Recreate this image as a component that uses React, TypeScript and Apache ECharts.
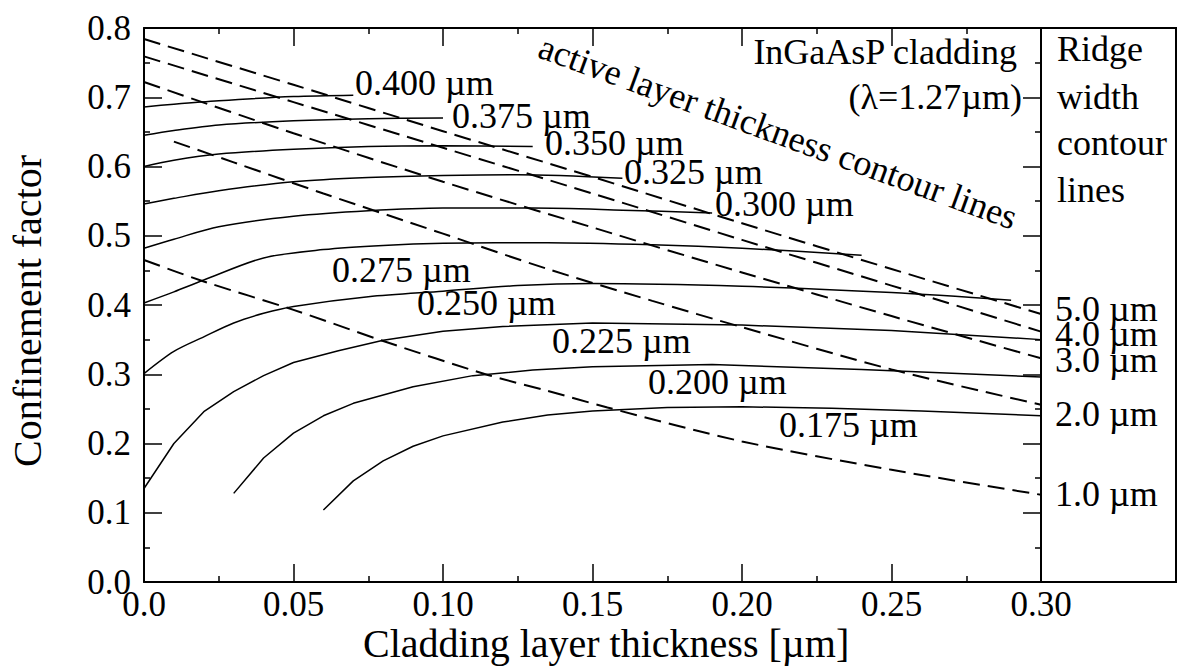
import React, { useEffect, useRef } from "react";
import * as echarts from "echarts";

const FONT = "'Liberation Serif', 'Times New Roman', Times, serif";

// Tick labels
const xTickLabels = ["0.0", "0.05", "0.10", "0.15", "0.20", "0.25", "0.30"];
const yTickLabels = ["0.0", "0.1", "0.2", "0.3", "0.4", "0.5", "0.6", "0.7", "0.8"];

// Active layer thickness contour lines (solid): [cladding thickness, confinement factor]
const act400 = [[0, 0.686], [0.01, 0.69], [0.025, 0.695], [0.05, 0.701], [0.07, 0.703]];
const act375 = [[0, 0.645], [0.01, 0.652], [0.025, 0.66], [0.05, 0.666], [0.075, 0.669], [0.1, 0.67]];
const act350 = [[0, 0.6], [0.01, 0.609], [0.025, 0.618], [0.05, 0.625], [0.075, 0.629], [0.1, 0.63], [0.13, 0.629]];
const act325 = [[0, 0.546], [0.01, 0.554], [0.025, 0.565], [0.05, 0.578], [0.075, 0.584], [0.1, 0.587], [0.125, 0.588], [0.16, 0.583]];
const act300 = [[0, 0.482], [0.01, 0.495], [0.025, 0.513], [0.05, 0.528], [0.075, 0.536], [0.1, 0.54], [0.13, 0.54], [0.16, 0.537], [0.19, 0.533]];
const act275 = [[0, 0.403], [0.01, 0.419], [0.02, 0.436], [0.04, 0.468], [0.06, 0.48], [0.08, 0.486], [0.1, 0.489], [0.135, 0.49], [0.17, 0.487], [0.2, 0.482], [0.24, 0.472]];
const act250 = [[0, 0.301], [0.01, 0.333], [0.02, 0.354], [0.03, 0.374], [0.04, 0.388], [0.05, 0.398], [0.075, 0.412], [0.1, 0.42], [0.125, 0.428], [0.15, 0.431], [0.2, 0.427], [0.25, 0.418], [0.29, 0.407]];
const act225 = [[0, 0.135], [0.01, 0.2], [0.02, 0.246], [0.03, 0.275], [0.04, 0.298], [0.05, 0.317], [0.065, 0.334], [0.08, 0.349], [0.1, 0.362], [0.12, 0.369], [0.15, 0.374], [0.2, 0.371], [0.25, 0.363], [0.3, 0.35]];
const act200 = [[0.03, 0.128], [0.04, 0.179], [0.05, 0.215], [0.06, 0.24], [0.07, 0.258], [0.09, 0.282], [0.11, 0.298], [0.13, 0.306], [0.15, 0.311], [0.19, 0.314], [0.24, 0.307], [0.3, 0.296]];
const act175 = [[0.06, 0.104], [0.07, 0.146], [0.08, 0.175], [0.09, 0.196], [0.1, 0.211], [0.12, 0.231], [0.135, 0.241], [0.15, 0.247], [0.175, 0.252], [0.2, 0.253], [0.23, 0.251], [0.26, 0.247], [0.3, 0.24]];

// Ridge width contour lines (dashed)
const ridge50 = [[0, 0.784], [0.05, 0.718], [0.1, 0.651], [0.15, 0.585], [0.2, 0.518], [0.25, 0.452], [0.3, 0.387]];
const ridge40 = [[0, 0.759], [0.05, 0.693], [0.1, 0.627], [0.15, 0.561], [0.2, 0.494], [0.25, 0.428], [0.3, 0.3615]];
const ridge30 = [[0, 0.722], [0.05, 0.648], [0.1, 0.578], [0.15, 0.512], [0.2, 0.447], [0.25, 0.384], [0.3, 0.323]];
const ridge20 = [[0.01, 0.636], [0.03, 0.606], [0.06, 0.561], [0.1, 0.503], [0.135, 0.452], [0.17, 0.406], [0.2, 0.368], [0.25, 0.307], [0.3, 0.256]];
const ridge10 = [[0, 0.465], [0.02, 0.434], [0.05, 0.393], [0.08, 0.348], [0.115, 0.299], [0.135, 0.276], [0.155, 0.252], [0.2, 0.203], [0.25, 0.162], [0.3, 0.126]];

const activeCurves = [act400, act375, act350, act325, act300, act275, act250, act225, act200, act175];
const ridgeCurves = [ridge50, ridge40, ridge30, ridge20, ridge10];

const activeLabels = ["0.400 µm", "0.375 µm", "0.350 µm", "0.325 µm", "0.300 µm", "0.275 µm", "0.250 µm", "0.225 µm", "0.200 µm", "0.175 µm"];
const ridgeLabels = ["5.0 µm", "4.0 µm", "3.0 µm", "2.0 µm", "1.0 µm"];
const legendLines = ["Ridge", "width", "contour", "lines"];

export default function App() {
  const ref = useRef<HTMLDivElement>(null);

  useEffect(() => {
    if (!ref.current) return;
    const chart = echarts.init(ref.current, null, { renderer: "svg" });

    const gridL = 144, gridT = 28, gridW = 897, gridH = 554;

    const axisCommon = {
      type: "value",
      axisLine: { show: true, onZero: false, lineStyle: { color: "#000", width: 2 } },
      axisTick: { show: true, inside: true, length: 18, lineStyle: { color: "#000", width: 1.5 } },
      minorTick: { show: true, splitNumber: 2, length: 6, lineStyle: { color: "#000", width: 1.5 } },
      splitLine: { show: false },
      minorSplitLine: { show: false },
    };

    const series: any[] = [];
    activeCurves.forEach((d, i) => {
      series.push({
        type: "line",
        name: activeLabels[i],
        data: d,
        showSymbol: false,
        symbol: "none",
        smooth: i < 7 ? 0.3 : false,
        lineStyle: { color: "#000", width: 1.5 },
        silent: true,
      });
    });
    ridgeCurves.forEach((d, i) => {
      series.push({
        type: "line",
        name: ridgeLabels[i],
        data: d,
        showSymbol: false,
        symbol: "none",
        smooth: 0.3,
        lineStyle: { color: "#000", width: 2, type: [17, 8] },
        silent: true,
      });
    });

    const labelPos = [
      [355, 83], [452, 116], [545, 143], [624, 172], [715, 204],
      [332, 270], [417, 303], [552, 341], [648, 382], [779, 425],
    ];
    const ridgeLabelY = [309, 334, 360, 414, 494];
    const legendY = [49, 97, 143, 190];

    const txt = (text: string, x: number, y: number, extra: any = {}) => ({
      type: "text",
      x,
      y,
      silent: true,
      ...extra,
      style: {
        text,
        fill: "#000",
        fontSize: 36,
        fontFamily: FONT,
        align: "left",
        verticalAlign: "middle",
        ...(extra.style || {}),
      },
    });

    const graphics: any[] = [
      {
        type: "rect",
        shape: { x: 1041, y: gridT, width: 135, height: gridH },
        style: { fill: "none", stroke: "#000", lineWidth: 2 },
        silent: true,
      },
    ];
    activeLabels.forEach((t, i) => graphics.push(txt(t, labelPos[i][0], labelPos[i][1])));
    ridgeLabels.forEach((t, i) => graphics.push(txt(t, 1055, ridgeLabelY[i])));
    legendLines.forEach((t, i) => graphics.push(txt(t, 1057, legendY[i])));
    graphics.push(txt("InGaAsP cladding", 1017, 52, { style: { align: "right" } }));
    graphics.push(txt("(λ=1.27µm)", 1022, 97, { style: { align: "right" } }));
    graphics.push(
      txt("active layer thickness contour lines", 778, 132, {
        rotation: (-20 * Math.PI) / 180,
        style: { align: "center" },
      })
    );
    graphics.push(txt("Cladding layer thickness [µm]", 363, 643, { style: { fontSize: 40 } }));
    graphics.push(
      txt("Confinement factor", 27, 311, {
        rotation: Math.PI / 2,
        style: { align: "center", fontSize: 40 },
      })
    );

    chart.setOption({
      animation: false,
      backgroundColor: "#fff",
      grid: { left: gridL, top: gridT, width: gridW, height: gridH, containLabel: false },
      xAxis: [
        {
          ...axisCommon,
          position: "bottom",
          min: 0,
          max: 0.3,
          interval: 0.05,
          axisLabel: {
            show: true,
            color: "#000",
            fontSize: 35,
            fontFamily: FONT,
            margin: 5,
            formatter: (v: number) => xTickLabels[Math.round(v / 0.05)] ?? "",
          },
        },
        {
          ...axisCommon,
          position: "top",
          min: 0,
          max: 0.3,
          interval: 0.05,
          axisLabel: { show: false },
        },
      ],
      yAxis: [
        {
          ...axisCommon,
          position: "left",
          min: 0,
          max: 0.8,
          interval: 0.1,
          axisLabel: {
            show: true,
            color: "#000",
            fontSize: 35,
            fontFamily: FONT,
            margin: 13,
            formatter: (v: number) => yTickLabels[Math.round(v / 0.1)] ?? "",
          },
        },
        {
          ...axisCommon,
          position: "right",
          min: 0,
          max: 0.8,
          interval: 0.1,
          axisLabel: { show: false },
        },
      ],
      series,
      graphic: graphics,
    });

    return () => chart.dispose();
  }, []);

  return (
    <div
      ref={ref}
      style={{ position: "absolute", left: 0, top: 0, width: 1179, height: 668, background: "#fff" }}
    />
  );
}
